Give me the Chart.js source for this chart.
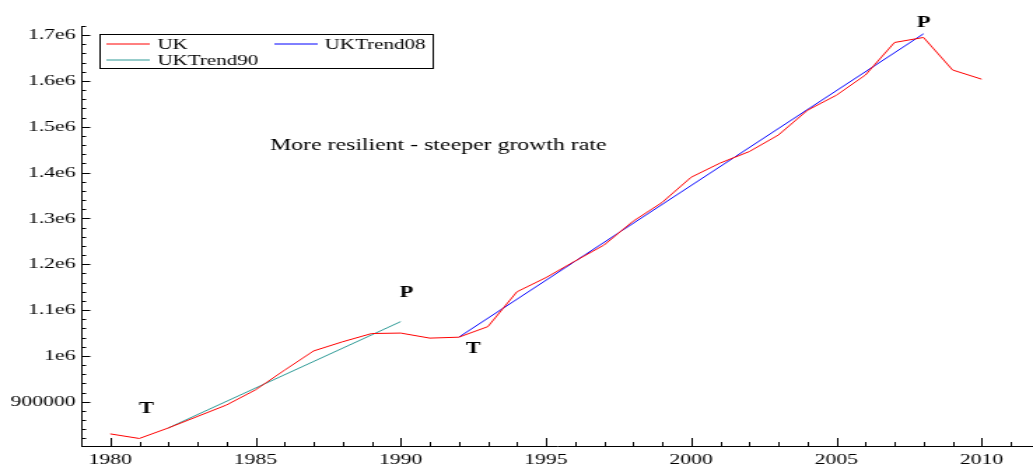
<!DOCTYPE html>
<html lang="en">
<head>
  <meta charset="UTF-8" />
  <title>UK output and trends</title>
  <script src="https://cdn.jsdelivr.net/npm/chart.js"></script>
  <style>
    html, body {
      margin: 0;
      padding: 0;
      background: #fff;
      overflow: hidden;
    }
    /* the original picture is stretched sideways, so the canvas is too */
    #chart {
      width: 1033px !important;
      height: 466px !important;
    }
  </style>
</head>
<body>
  <canvas id="chart" width="738" height="466" style="width:1033px;height:466px"></canvas>

  <script>
    // === data ===
    const years = [1980, 1981, 1982, 1983, 1984, 1985, 1986, 1987, 1988, 1989,
                   1990, 1991, 1992, 1993, 1994, 1995, 1996, 1997, 1998, 1999,
                   2000, 2001, 2002, 2003, 2004, 2005, 2006, 2007, 2008, 2009, 2010];
    const ukValues = [830000, 820000, 843000, 868000, 893000, 926000, 969000, 1011000, 1031000, 1049000,
                      1050000, 1039000, 1041000, 1064000, 1140000, 1171000, 1207000, 1242000, 1294000, 1335000,
                      1390000, 1421000, 1446000, 1482000, 1536000, 1569000, 1613000, 1684000, 1695000, 1624000, 1604000];
    const trend90Years = [1982, 1990];
    const trend90Values = [843000, 1075000];
    const trend08Years = [1992, 2008];
    const trend08Values = [1041000, 1703000];

    const xTicks = [1980, 1985, 1990, 1995, 2000, 2005, 2010];
    const yTicks = [900000, 1000000, 1100000, 1200000, 1300000, 1400000, 1500000, 1600000, 1700000];
    const yTickLabels = ["900000", "1e6", "1.1e6", "1.2e6", "1.3e6", "1.4e6", "1.5e6", "1.6e6", "1.7e6"];

    const seriesNames = ["UK", "UKTrend90", "UKTrend08"];
    const seriesColors = ["#ff0000", "#2e9a96", "#0000ff"];

    const note = "More resilient - steeper growth rate";
    const turnLabels = [
      { text: "T", x: 1981.25, y: 875600 },
      { text: "P", x: 1990.2, y: 1128700 },
      { text: "T", x: 1992.5, y: 1007200 },
      { text: "P", x: 2008.0, y: 1717800 }
    ];

    const FONT = "'Liberation Serif', 'DejaVu Serif', serif";

    const pts = (xs, ys) => xs.map((x, i) => ({ x: x, y: ys[i] }));

    // tick marks inside the axes, legend box and notes
    const overlay = {
      id: "overlay",
      afterDraw(chart) {
        const { ctx, chartArea: a } = chart;
        const x = chart.scales.x, y = chart.scales.y;
        ctx.save();
        ctx.strokeStyle = "#000";
        ctx.lineWidth = 1;
        ctx.beginPath();
        for (let yr = Math.ceil(x.min); yr <= x.max; yr++) {
          const px = Math.round(x.getPixelForValue(yr)) + 0.5;
          const len = yr % 5 === 0 ? 8 : 4;
          ctx.moveTo(px, a.bottom);
          ctx.lineTo(px, a.bottom - len);
        }
        for (let v = 820000; v <= y.max + 1; v += 20000) {
          const py = Math.round(y.getPixelForValue(v)) + 0.5;
          const len = v % 100000 === 0 ? 6.5 : 3.5;
          ctx.moveTo(a.left, py);
          ctx.lineTo(a.left + len, py);
        }
        ctx.stroke();

        // legend
        ctx.fillStyle = "#fff";
        ctx.fillRect(71.5, 34.5, 238, 34);
        ctx.strokeStyle = "#000";
        ctx.strokeRect(71.5, 34.5, 238, 34);
        const entries = [
          { i: 0, lx: 76, tx: 112.5, ly: 44, ty: 48.8 },
          { i: 2, lx: 196, tx: 232, ly: 44, ty: 48.8 },
          { i: 1, lx: 76, tx: 112.5, ly: 60, ty: 64.5 }
        ];
        ctx.font = "15px " + FONT;
        ctx.textBaseline = "alphabetic";
        ctx.textAlign = "left";
        entries.forEach(e => {
          ctx.strokeStyle = seriesColors[e.i];
          ctx.beginPath();
          ctx.moveTo(e.lx, e.ly);
          ctx.lineTo(e.lx + 31, e.ly);
          ctx.stroke();
          ctx.fillStyle = "#000";
          ctx.fillText(seriesNames[e.i], e.tx, e.ty);
        });

        // notes
        ctx.fillStyle = "#000";
        ctx.font = "17px " + FONT;
        ctx.fillText(note, 193, 149.5);
        ctx.font = "bold 16px " + FONT;
        ctx.textAlign = "center";
        turnLabels.forEach(t => {
          ctx.fillText(t.text, x.getPixelForValue(t.x), y.getPixelForValue(t.y));
        });
        ctx.restore();
      }
    };

    new Chart(document.getElementById("chart"), {
      type: "line",
      data: {
        datasets: [
          { label: seriesNames[0], data: pts(years, ukValues), borderColor: seriesColors[0] },
          { label: seriesNames[1], data: pts(trend90Years, trend90Values), borderColor: seriesColors[1] },
          { label: seriesNames[2], data: pts(trend08Years, trend08Values), borderColor: seriesColors[2] }
        ]
      },
      options: {
        responsive: false,
        devicePixelRatio: 1,
        animation: false,
        layout: { padding: { top: 26, left: 0, right: 0, bottom: 0 } },
        elements: {
          line: { borderWidth: 1, tension: 0 },
          point: { radius: 0 }
        },
        plugins: {
          legend: { display: false },
          tooltip: { enabled: false }
        },
        scales: {
          x: {
            type: "linear",
            min: 1979,
            max: 2011.77,
            grid: { display: false, drawTicks: false },
            border: { display: true, color: "#000", width: 1 },
            afterBuildTicks: s => { s.ticks = xTicks.map(v => ({ value: v })); },
            afterFit: s => { s.height = 20; },
            ticks: {
              padding: 5,
              color: "#000",
              font: { family: FONT, size: 15.5 },
              callback: v => String(v)
            }
          },
          y: {
            type: "linear",
            min: 803600,
            max: 1720000,
            grid: { display: false, drawTicks: false },
            border: { display: true, color: "#000", width: 1 },
            afterBuildTicks: s => { s.ticks = yTicks.map(v => ({ value: v })); },
            afterFit: s => { s.width = 58; },
            ticks: {
              padding: 4,
              color: "#000",
              font: { family: FONT, size: 15.5 },
              callback: v => yTickLabels[yTicks.indexOf(v)]
            }
          }
        }
      },
      plugins: [overlay]
    });
  </script>
</body>
</html>
